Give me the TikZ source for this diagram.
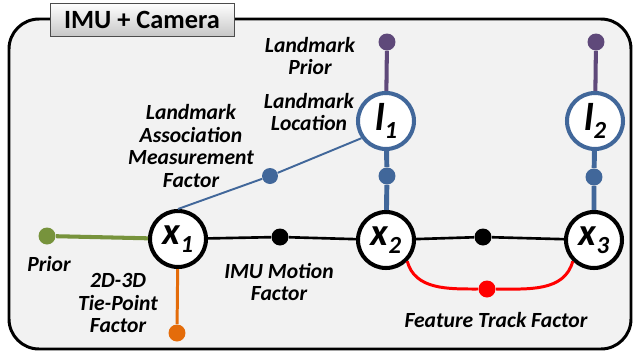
\documentclass[tikz,border=0pt]{standalone}
\usepackage{fontspec}
\setmainfont{Carlito}
\usetikzlibrary{positioning}
\definecolor{panelfill}{HTML}{F2F2F2}
\definecolor{lmkblue}{HTML}{41679A}
\definecolor{lmkprior}{HTML}{5F497A}
\definecolor{priorgreen}{HTML}{77933C}
\definecolor{tieorange}{HTML}{E46C0A}
\definecolor{trackred}{HTML}{FF0000}
\newcommand{\vlab}[2]{#1\raisebox{-0.45ex}{\fontsize{14}{14}\selectfont #2}}

\begin{document}
\begin{tikzpicture}[x=0.02cm, y=-0.02cm,
    every node/.style={font=\fontsize{12.3}{12.8}\selectfont\bfseries\itshape},
    var/.style={circle, draw=black, line width=2.3pt, fill=white, minimum size=1.12cm, inner sep=0pt,
      font=\fontsize{22}{22}\selectfont\bfseries\itshape},
    lmk/.style={var, draw=lmkblue},
    fac/.style={circle, fill=#1, minimum size=0.34cm, inner sep=0pt},
    lbl/.style={align=center}]
                \useasboundingbox (0,0) rectangle (637,356);
                \draw[line width=1.7pt, fill=panelfill, rounded corners=0.6cm] (9,19) rectangle (631,349);
                \node[draw=black!70, thin, top color=white, bottom color=black!22, minimum width=3.68cm, minimum height=0.66cm,
                  font=\fontsize{15}{15}\selectfont\bfseries] (title) at (142,19.5) {IMU + Camera};
                % variables
                \node[var] (x1) at (178,239) {\vlab{x}{1}};
                \node[var] (x2) at (386,240) {\vlab{x}{2}};
                \node[var] (x3) at (594,240) {\vlab{x}{3}};
                \node[lmk] (l1) at (386,121) {\vlab{l}{1}};
                \node[lmk] (l2) at (595,121) {\vlab{l}{2}};
                % factors
                \node[fac=lmkprior] (lp1) at (387,42) {};
                \node[fac=lmkprior] (lp2) at (596,42) {};
                \node[fac=lmkblue] (ll1) at (387,176) {};
                \node[fac=lmkblue] (ll2) at (594,177) {};
                \node[fac=lmkblue, minimum size=0.32cm] (assoc) at (270,176) {};
                \node[fac=priorgreen] (prior) at (47,236) {};
                \node[fac=black] (imu1) at (280,237) {};
                \node[fac=black] (imu2) at (483,237) {};
                \node[fac=tieorange] (tie) at (177,333) {};
                \node[fac=trackred] (track) at (487,289) {};
                % edges
                \draw[lmkprior, line width=2.3pt] (lp1) -- (l1);
                \draw[lmkprior, line width=2.3pt] (lp2) -- (l2);
                \draw[lmkblue, line width=2.8pt] (l1) -- (ll1) -- (x2);
                \draw[lmkblue, line width=2.8pt] (l2) -- (ll2) -- (x3);
                \draw[lmkblue, line width=1.1pt] (x1.north) -- (assoc) -- (l1.215);
                \draw[priorgreen, line width=2.3pt] (prior) -- (x1);
                \draw[line width=1.5pt] (x1) -- (imu1) -- (x2) -- (imu2) -- (x3);
                \draw[tieorange, line width=1.7pt] (x1) -- (tie);
                \draw[trackred, line width=1.7pt] (x2.-45) to[out=-75, in=180] (track);
                \draw[trackred, line width=1.7pt] (track) to[out=0, in=-105] (x3.225);
                % labels
                \node[lbl] (lpriorlbl) at (310,56) {Landmark\\Prior};
                \node[lbl] (lloclbl) at (309,112) {Landmark\\Location};
                \node[lbl] (assoclbl) at (191,146) {Landmark\\Association\\Measurement\\Factor};
                \node[lbl] (priorlbl) at (49,264) {Prior};
                \node[lbl] (tielbl) at (118,303) {2D-3D\\Tie-Point\\Factor};
                \node[lbl] (imulbl) at (279,282) {IMU Motion\\Factor};
                \node[lbl] (tracklbl) at (496,320) {Feature Track Factor};
\end{tikzpicture}
\end{document}
